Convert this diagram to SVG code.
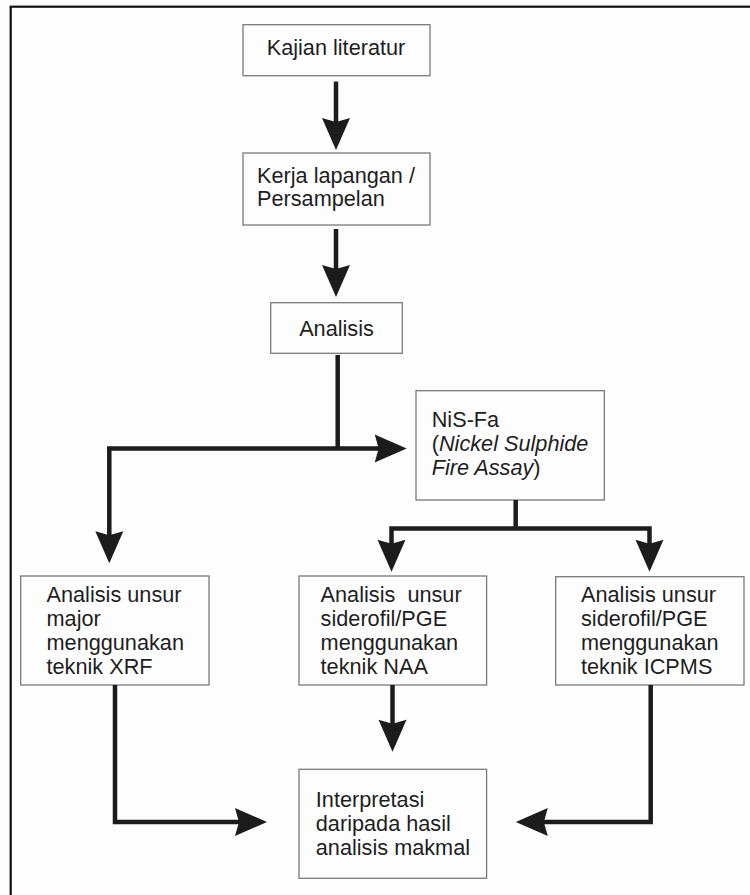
<svg xmlns="http://www.w3.org/2000/svg" xmlns:xlink="http://www.w3.org/1999/xlink" width="750" height="895" viewBox="0 0 750 895">
<style>
.bg{fill:#fdfdfd}
.frame{fill:none;stroke:#111;stroke-width:2.2}
.box{fill:#fdfdfd;stroke:#7a7a7a;stroke-width:1.3}
.t{font-family:"Liberation Sans",Arial,Helvetica,sans-serif;font-size:21.7px;fill:#1e1e1e}
.it{font-style:italic}
.ln{fill:none;stroke:#1c1c1c;stroke-width:4.5;stroke-linejoin:miter;stroke-linecap:butt}
.ah{fill:#1c1c1c}
</style>
<defs>
<path id="head" d="M0,0 L-14,-32 L0,-28 L14,-32 Z"/>
</defs>
<rect class="bg" x="0" y="0" width="750" height="895"/>
<rect class="frame" x="10.7" y="6.7" width="760" height="900"/>

<g id="n1">
<rect class="box" x="243" y="24.7" width="187" height="51"/>
<text class="t" x="336" y="55" text-anchor="middle">Kajian literatur</text>
</g>
<g id="n2">
<rect class="box" x="243" y="153" width="187" height="72"/>
<text class="t" x="257" y="182.8">Kerja lapangan /</text>
<text class="t" x="257" y="206.2">Persampelan</text>
</g>
<g id="n3">
<rect class="box" x="270.7" y="302.7" width="131.6" height="50.6"/>
<text class="t" x="336.5" y="336" text-anchor="middle">Analisis</text>
</g>
<g id="n4">
<rect class="box" x="416" y="390.7" width="188.3" height="109.3"/>
<text class="t" x="431.7" y="426.7">NiS-Fa</text>
<text class="t" x="431.7" y="451">(<tspan class="it">Nickel Sulphide</tspan></text>
<text class="t" x="431.7" y="475"><tspan class="it">Fire Assay</tspan>)</text>
</g>
<g id="n5">
<rect class="box" x="20.7" y="576" width="188.3" height="109"/>
<text class="t" x="46.5" y="601.5">Analisis unsur</text>
<text class="t" x="46.5" y="625.5">major</text>
<text class="t" x="46.5" y="649.5">menggunakan</text>
<text class="t" x="46.5" y="673.5">teknik XRF</text>
</g>
<g id="n6">
<rect class="box" x="299" y="576" width="187.6" height="109"/>
<text class="t" x="320.6" y="601.5" xml:space="preserve">Analisis  unsur</text>
<text class="t" x="320.6" y="625.5">siderofil/PGE</text>
<text class="t" x="320.6" y="649.5">menggunakan</text>
<text class="t" x="320.6" y="673.5">teknik NAA</text>
</g>
<g id="n7">
<rect class="box" x="555.7" y="576.7" width="188.3" height="108.3"/>
<text class="t" x="581" y="601.5">Analisis unsur</text>
<text class="t" x="581" y="625.5">siderofil/PGE</text>
<text class="t" x="581" y="649.5">menggunakan</text>
<text class="t" x="581" y="673.5">teknik ICPMS</text>
</g>
<g id="n8">
<rect class="box" x="299" y="769.3" width="187.6" height="109"/>
<text class="t" x="315.8" y="806.7">Interpretasi</text>
<text class="t" x="315.8" y="831">daripada hasil</text>
<text class="t" x="315.8" y="855">analisis makmal</text>
</g>

<g id="connectors">
<polyline class="ln" points="336,81.5 336,122"/>
<use xlink:href="#head" class="ah" transform="translate(336,150)"/>
<polyline class="ln" points="336,229 336,270"/>
<use xlink:href="#head" class="ah" transform="translate(336,297)"/>
<polyline class="ln" points="337.7,355 337.7,448.5"/>
<polyline class="ln" points="380,448.5 109.3,448.5 109.3,536"/>
<use xlink:href="#head" class="ah" transform="translate(406.7,448.5) rotate(-90)"/>
<use xlink:href="#head" class="ah" transform="translate(109.3,563.3)"/>
<polyline class="ln" points="515.7,500 515.7,528.5"/>
<polyline class="ln" points="391.5,545 391.5,528.5 649.5,528.5 649.5,545"/>
<use xlink:href="#head" class="ah" transform="translate(391.5,571.7)"/>
<use xlink:href="#head" class="ah" transform="translate(649.5,571.7)"/>
<polyline class="ln" points="392.5,685 392.5,724"/>
<use xlink:href="#head" class="ah" transform="translate(392.5,751.7)"/>
<polyline class="ln" points="115,685 115,822 240,822"/>
<use xlink:href="#head" class="ah" transform="translate(267,822) rotate(-90)"/>
<polyline class="ln" points="650.7,685 650.7,822 543,822"/>
<use xlink:href="#head" class="ah" transform="translate(515.8,822) rotate(90)"/>
</g>
</svg>
